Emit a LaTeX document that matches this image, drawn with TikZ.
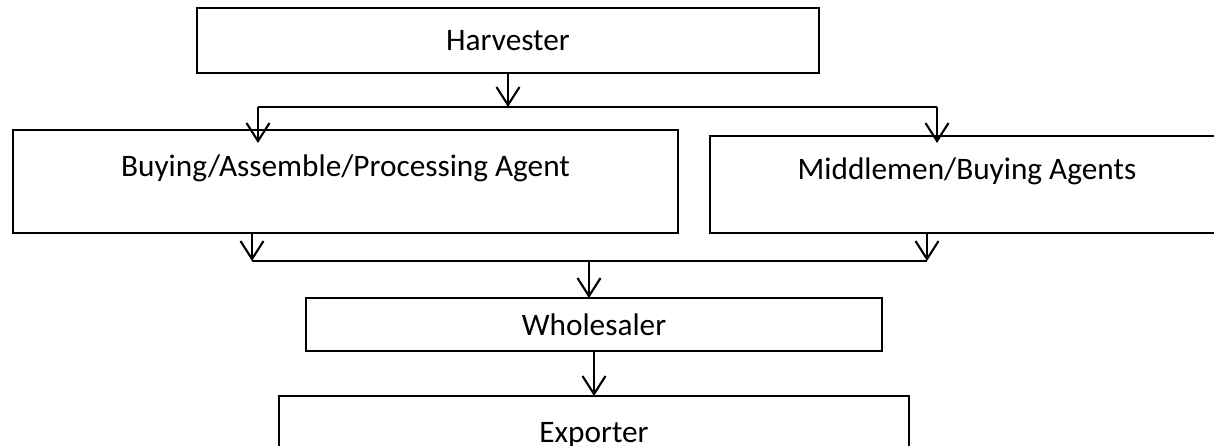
\documentclass[tikz,border=0pt]{standalone}
\usepackage{fontspec}
\setmainfont{Carlito}
\usepackage{tikz}
\usetikzlibrary{arrows.meta,calc,positioning}

\tikzset{
    box/.style={draw=black, line width=1.1pt, rectangle, inner sep=0pt, outer sep=0pt, align=center},
    flow/.style={line width=1.2pt, -{Straight Barb[length=3.6mm,width=4.6mm]}},
}

\begin{document}
\begin{tikzpicture}[x=0.02cm, y=-0.02cm, font=\fontsize{17.8}{21}\selectfont]
        \useasboundingbox (0,0) rectangle (1214,446);
        \clip (0,0) rectangle (1214,446);

        \coordinate (xH) at (508, 40.5);
        \coordinate (xB) at (345.5, 130);
        \coordinate (xM) at (967, 136);
        \coordinate (xW) at (594, 324.5);
        \coordinate (xE) at (594, 396);

        \coordinate (splitL) at (258, 107);
        \coordinate (splitR) at (937, 107);
        \coordinate (tipL) at (258, 143);
        \coordinate (tipR) at (937, 143);
        \coordinate (mergeL) at (252, 261);
        \coordinate (mergeR) at (927, 261);
        \coordinate (mergeW) at (589, 261);

        \node[box, minimum width=12.44cm, minimum height=1.3cm] (harvester) at (xH) {Harvester};
        \node[box, anchor=north, minimum width=13.32cm, text height=0.94cm, text depth=1.12cm] (buying) at (xB) {Buying/Assemble/Processing Agent};
        \node[box, anchor=north, minimum width=10.28cm, text height=0.88cm, text depth=1.06cm] (middlemen) at (xM) {Middlemen/Buying Agents};
        \node[box, minimum width=11.52cm, minimum height=1.06cm] (wholesaler) at (xW) {Wholesaler};
        \node[box, anchor=north, minimum width=12.6cm, text height=0.94cm, text depth=0.5cm] (exporter) at (xE) {Exporter};

        % harvester splits into the two buyer groups
        \draw[flow] (harvester.south) -- (harvester.south |- splitL);
        \draw[line width=1.2pt] (splitL) -- (splitR);
        \draw[flow] (splitL) -- (tipL);
        \draw[flow] (splitR) -- (tipR);

        % both groups sell on to the wholesaler
        \draw[flow] (buying.south -| mergeL) -- (mergeL);
        \draw[flow] (middlemen.south -| mergeR) -- (mergeR);
        \draw[line width=1.2pt] (mergeL) -- (mergeR);
        \draw[flow] (mergeW) -- (mergeW |- wholesaler.north);
        \draw[flow] (wholesaler.south) -- (exporter.north);
    \end{tikzpicture}
\end{document}
